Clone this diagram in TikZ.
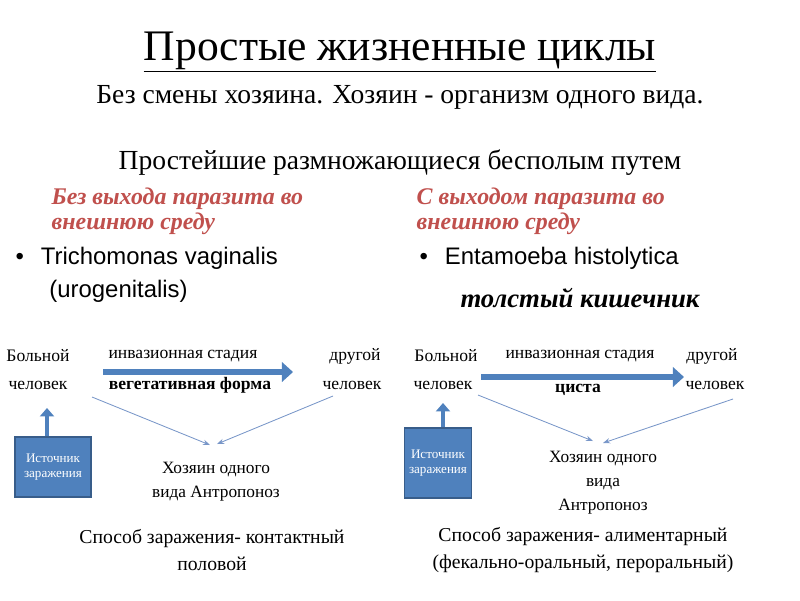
\documentclass[tikz,border=0pt]{standalone}
\usepackage{fontspec}
\setmainfont{Liberation Serif}
\newfontfamily\sansf{Liberation Sans}
\usetikzlibrary{arrows.meta,positioning}
\definecolor{red_head}{RGB}{192, 80, 77}
\definecolor{box_blue}{RGB}{79, 129, 189}
\definecolor{box_edge}{RGB}{56, 93, 138}
\definecolor{thin_blue}{RGB}{120, 150, 200}
\tikzset{
  txt/.style={inner sep=1pt, font=\fontsize{12.5}{14}\selectfont},
  head/.style={inner sep=1pt, align=left, text=red_head, font=\fontsize{17}{18}\selectfont\bfseries\itshape},
  big/.style={inner sep=1pt, align=left, font=\sansf\fontsize{17}{24}\selectfont},
  srcbox/.style={rectangle, fill=box_blue, draw=box_edge, line width=0.8pt, text=white,
    minimum width=1.9cm, minimum height=1.5cm, align=center, font=\fontsize{9.3}{11}\selectfont},
  thick_arr/.style={-{Triangle[length=8pt,width=14pt]}, line width=4pt, draw=box_blue},
  thin_arr/.style={-{Stealth[length=5pt]}, thin_blue, line width=0.6pt},
}
\begin{document}
\begin{tikzpicture}[x=0.025cm, y=-0.025cm]
  \useasboundingbox (0,0) rectangle (800,600);
  % headings
  \node (title) at (400,52) {\fontsize{31}{34}\selectfont\underline{Простые жизненные циклы}};
  \node (sub) at (400,97) {\fontsize{19.6}{22}\selectfont Без смены хозяина. Хозяин - организм одного вида.};
  \node (sub2) at (400,163) {\fontsize{19.6}{22}\selectfont Простейшие размножающиеся бесполым путем};
  \node[head, anchor=north west] (lh) at (50,186) {Без выхода паразита во\\внешнюю среду};
  \node[head, anchor=north west] (rh) at (415,186) {С выходом паразита во\\внешнюю среду};
  \node[big, anchor=north west] (lb) at (14,245) {•\hspace{12pt}Trichomonas vaginalis\\\hspace{24pt}(urogenitalis)};
  \node[big, anchor=north west] (rb) at (418,245) {•\hspace{12pt}Entamoeba histolytica};
  \node (colon) at (580,298) {\fontsize{19}{22}\selectfont\bfseries\itshape толстый кишечник};
  % left cycle
  \node[txt] (l1) at (38,356) {Больной};
  \node[txt] (l2) at (38,385) {человек};
  \node[txt] (l3) at (183,356) {инвазионная стадия};
  \node[txt, font=\fontsize{12.5}{14}\selectfont\bfseries] (l4) at (190,385) {вегетативная форма};
  \node[txt] (l5) at (355,356) {другой};
  \node[txt] (l6) at (352,385) {человек};
  \node[txt, align=center, font=\fontsize{12.3}{17}\selectfont] (l7) at (216,482) {Хозяин одного\\вида Антропоноз};
  \node[srcbox] (ls) at (53,467) {Источник\\заражения};
  \coordinate (lm) at (210,445);
  \draw[thick_arr] (103,372) -- (293,372);
  \draw[thin_arr] (92,397) -- (lm);
  \draw[thin_arr] (333,396) -- (217,444);
  \draw[-{Triangle[length=6pt,width=10pt]}, box_blue, line width=2.2pt] (ls.north -| 47,0) -- (47,408);
  \node[align=center, font=\fontsize{14}{19}\selectfont] (lw) at (212,550) {Способ заражения- контактный\\половой};
  % right cycle
  \node[txt] (r1) at (446,356) {Больной};
  \node[txt] (r2) at (443,385) {человек};
  \node[txt] (r3) at (580,356) {инвазионная стадия};
  \node[txt, font=\fontsize{12.5}{14}\selectfont\bfseries] (r4) at (578,390) {циста};
  \node[txt] (r5) at (712,356) {другой};
  \node[txt] (r6) at (715,385) {человек};
  \node[txt, align=center, font=\fontsize{12.3}{17}\selectfont] (r7) at (603,483) {Хозяин одного\\вида\\Антропоноз};
  \node[srcbox, minimum width=1.6cm, minimum height=1.75cm] (rs) at (438,463) {Источник\\заражения};
  \coordinate (rm) at (593,441);
  \draw[thick_arr] (481,377) -- (684,377);
  \draw[thin_arr] (478,395) -- (rm);
  \draw[thin_arr] (733,399) -- (603,443);
  \draw[-{Triangle[length=6pt,width=10pt]}, box_blue, line width=2.2pt] (rs.north -| 443,0) -- (443,403);
  \node[align=center, font=\fontsize{14}{19}\selectfont] (rw) at (583,550) {Способ заражения- алиментарный\\(фекально-оральный, пероральный)};
\end{tikzpicture}
\end{document}
